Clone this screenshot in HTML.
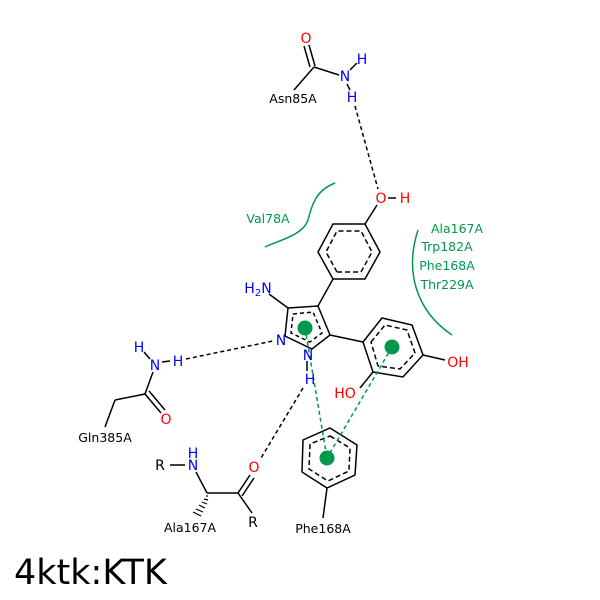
<!DOCTYPE html>
<html><head><style>body{margin:0;background:#fff}svg{display:block}text{font-family:"DejaVu Sans","Liberation Sans",sans-serif}</style></head><body>
<svg width="600" height="600" viewBox="0 0 600 600" xmlns="http://www.w3.org/2000/svg">
<rect width="600" height="600" fill="#fff"/>
<g stroke="#000" stroke-width="1.5" fill="none">
<line x1="304" y1="46" x2="310" y2="67"/><line x1="309" y1="45" x2="315" y2="66"/>
<line x1="314" y1="67" x2="339" y2="75"/><line x1="314" y1="67" x2="294" y2="90"/>
<line x1="350" y1="70" x2="357" y2="63"/><line x1="347" y1="84" x2="350" y2="90"/>
<line x1="355" y1="106" x2="378" y2="189" stroke-dasharray="4,3"/>
<line x1="388" y1="198" x2="396" y2="198"/>
<polygon points="333,279 318,252 333,224 365,224 380,252 365,279"/>
<polygon points="337,272 326,252 337,231 361,231 372,252 361,272" stroke-dasharray="5,3"/>
<line x1="365" y1="224" x2="377" y2="205"/>
<line x1="333" y1="279" x2="318" y2="306"/>
<polygon points="288,308 318,306 330,335 312,349 285,336"/>
<polygon points="293,314 313,312 322,333 310,342 291,333" stroke-dasharray="4,3"/>
<line x1="288" y1="308" x2="269" y2="294"/>
<line x1="330" y1="335" x2="363" y2="342"/>
<polygon points="363,342 382,318 412,325 423,355 403,377 373,372"/>
<polygon points="371,342 385,325 407,330 415,353 400,369 378,366" stroke-dasharray="5,3"/>
<line x1="423" y1="355" x2="445" y2="360"/>
<line x1="373" y1="372" x2="360" y2="388"/>
<line x1="186" y1="359" x2="273" y2="341" stroke-dasharray="4,3"/>
<line x1="307" y1="361" x2="307" y2="371"/>
<line x1="303" y1="388" x2="261" y2="458" stroke-dasharray="4,3"/>
<line x1="150" y1="359" x2="144" y2="352"/><line x1="162" y1="362" x2="170" y2="361"/>
<line x1="153" y1="372" x2="145" y2="394"/>
<line x1="145" y1="394" x2="115" y2="400"/><line x1="115" y1="400" x2="105" y2="427"/>
<line x1="145" y1="394" x2="161" y2="413"/><line x1="149" y1="391" x2="165" y2="410"/>
<line x1="170" y1="465" x2="185" y2="465"/>
<line x1="196" y1="472" x2="207" y2="493"/>
<line x1="207" y1="493" x2="238" y2="493"/>
<line x1="238" y1="493" x2="250" y2="475"/><line x1="242" y1="496" x2="254" y2="478"/>
<line x1="238" y1="493" x2="252" y2="513"/>
<polygon points="330,428 357,445 355,475 327,488 302,472 303,440"/>
<polygon points="330,436 350,448 349,471 328,481 309,469 310,444" stroke-dasharray="5,3"/>
<line x1="327" y1="488" x2="323" y2="518"/>
</g>
<g stroke="#000" stroke-width="1.2">
<line x1="206" y1="496" x2="208" y2="496"/><line x1="204" y1="499" x2="208" y2="500"/><line x1="202" y1="502" x2="207" y2="504"/><line x1="199" y1="505" x2="205" y2="508"/><line x1="196" y1="509" x2="203" y2="512"/><line x1="193" y1="512" x2="201" y2="516"/>
</g>
<g stroke="#00994c" stroke-width="1.5" fill="none">
<path d="M335,183 C318,190 313,200 308,220 C303,235 280,240 265,247"/>
<path d="M418,230 C405,270 415,310 452,335"/>
<line x1="305" y1="328" x2="327" y2="458" stroke-dasharray="4,3"/>
<line x1="392" y1="347" x2="327" y2="458" stroke-dasharray="4,3"/>
</g>
<g fill="#00994c"><circle cx="305" cy="328" r="7.5"/><circle cx="392" cy="347" r="7.5"/><circle cx="327" cy="458" r="7.5"/></g>
<g font-size="14" text-anchor="middle">
<text x="306" y="43" fill="#f00">O</text>
<text x="345" y="81" fill="#00f">N</text>
<text x="362" y="64" fill="#00f">H</text>
<text x="352" y="102" fill="#00f">H</text>
<text x="381" y="203" fill="#f00">O</text>
<text x="405" y="203" fill="#f00">H</text>
<text x="258" y="293" fill="#00f">H<tspan font-size="10" dy="3">2</tspan><tspan dy="-3">N</tspan></text>
<text x="281" y="345" fill="#00f">N</text>
<text x="308" y="360" fill="#00f">N</text>
<text x="310" y="384" fill="#00f">H</text>
<text x="458" y="367" fill="#f00">OH</text>
<text x="345" y="398" fill="#f00">HO</text>
<text x="139" y="352" fill="#00f">H</text>
<text x="155" y="370" fill="#00f">N</text>
<text x="178" y="366" fill="#00f">H</text>
<text x="166" y="424" fill="#f00">O</text>
<text x="160" y="470" fill="#000">R</text>
<text x="193" y="470" fill="#00f">N</text>
<text x="193" y="458" fill="#00f">H</text>
<text x="254" y="472" fill="#f00">O</text>
<text x="253" y="527" fill="#000">R</text>
</g>
<g font-size="12.5" text-anchor="middle" fill="#000">
<text x="293" y="103">Asn85A</text>
<text x="105" y="442">Gln385A</text>
<text x="190" y="532">Ala167A</text>
<text x="323" y="533">Phe168A</text>
</g>
<g font-size="12.5" text-anchor="middle" fill="#00994c">
<text x="268" y="223">Val78A</text>
<text x="457" y="233">Ala167A</text>
<text x="447" y="251">Trp182A</text>
<text x="447" y="270">Phe168A</text>
<text x="447" y="289">Thr229A</text>
</g>
<text x="14" y="584" font-size="35" fill="#000">4ktk:KTK</text>
</svg>
</body></html>
